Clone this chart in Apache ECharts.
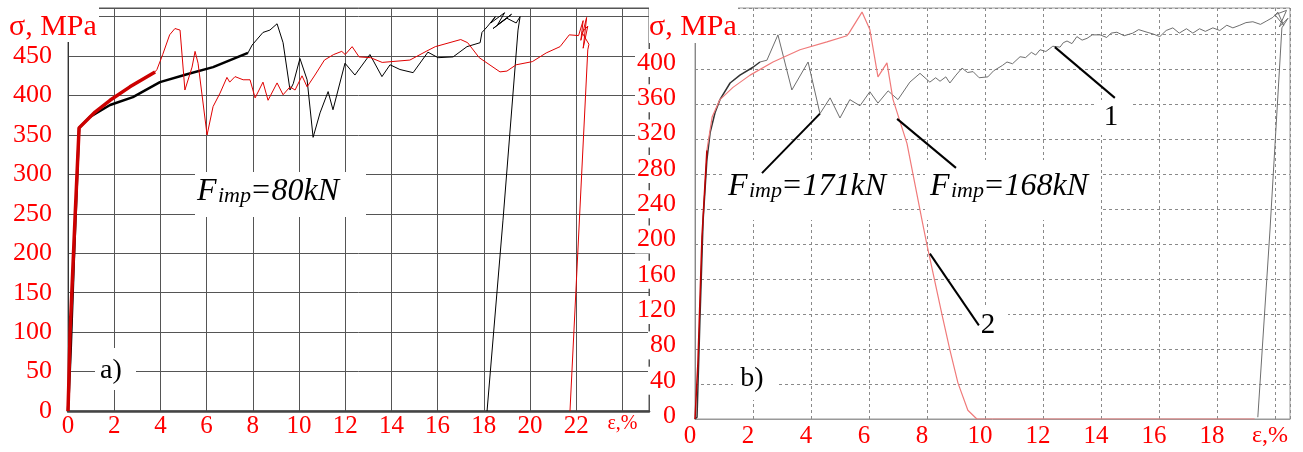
<!DOCTYPE html>
<html><head><meta charset="utf-8">
<script src="https://cdn.jsdelivr.net/npm/echarts@6/dist/echarts.min.js"></script>
<style>html,body{margin:0;padding:0;background:#fff}#c{width:1303px;height:452px}</style>
</head><body><div id="c"></div>
<script>
const SERIF = '"Liberation Serif","Times New Roman",serif';
const RED = '#ff0000';

// ---------- Panel a) : [strain %, stress MPa] ----------
const aBlackThick = [[0,0],[0.12,80],[0.25,190],[0.48,359],[0.95,373],[1.82,388],[2.81,398],[3.98,417],[5.15,427],[6.28,436],[7.79,454]];
const aBlackThin = [[7.79,454],[7.97,464],[8.44,480],[8.74,483],[9.05,491],[9.31,467],[9.61,407],[9.75,415],[10.04,447],[10.35,420],[10.61,347],[10.91,378],[11.26,405],[11.47,382],[11.99,441],[12.42,426],[13.07,452],[13.59,424],[13.94,439],[14.37,433],[14.94,429],[15.58,455],[16.02,448],[16.67,449],[17.27,462],[17.84,467],[17.92,480],[18.14,487],[18.5,500],[18.3,492],[18.9,505],[18.6,490],[19.2,503],[18.4,485],[19.0,498],[19.4,492],[19.57,500],[19.48,483],[18.83,242],[18.14,0]];
const aRedThick = [[0,0],[0.03,30],[0.09,99],[0.3,242],[0.48,359],[1.17,379],[1.82,394],[2.68,411],[3.77,430]];
const aRedThin = [[3.77,430],[3.85,433],[4.1,452],[4.4,477],[4.63,485],[4.85,483],[5.06,407],[5.37,436],[5.5,456],[5.63,441],[6.02,350],[6.28,386],[6.58,403],[6.88,423],[7.0,417],[7.23,424],[7.58,420],[7.88,420],[8.1,397],[8.44,417],[8.66,394],[9.05,416],[9.31,401],[9.61,411],[9.83,407],[10.13,425],[10.35,411],[10.69,426],[11.1,445],[11.5,452],[11.85,456],[12.0,452],[12.3,462],[12.6,449],[13.1,448],[13.6,442],[14.8,445],[15.5,456],[15.9,462],[17.0,471],[17.3,467],[17.8,448],[18.7,430],[19.0,431],[19.4,439],[20.1,443],[20.7,454],[21.3,462],[21.7,477],[22.1,476],[22.3,495],[22.2,470],[22.45,499],[22.3,460],[22.5,488],[22.25,480],[22.55,465],[22.5,458],[21.73,0]];

// ---------- Panel b) ----------
const bCurve1Start = [[0,0],[0.07,2],[0.17,113],[0.28,227],[0.41,296],[0.52,327],[0.69,350],[0.86,365],[1.21,384],[1.55,393],[2.0,402],[2.24,408]];
const bCurve1 = [[2.24,408],[2.48,410],[2.86,439],[3.34,376],[3.9,408],[4.31,349],[4.66,367],[5.0,344],[5.34,365],[5.69,358],[6.03,374],[6.31,361],[6.66,375],[7.0,365],[7.41,385],[7.76,395],[8.1,385],[8.3,390],[8.45,386],[8.65,391],[8.79,384],[9.0,393],[9.21,401],[9.4,396],[9.59,397],[9.8,390],[10.1,391],[10.3,398],[10.45,401],[10.6,404],[10.76,408],[10.95,406],[11.21,414],[11.4,413],[11.6,419],[11.75,416],[11.9,422],[12.1,420],[12.34,426],[12.59,425],[12.7,430],[12.83,432],[13.0,429],[13.17,437],[13.35,433],[13.52,435],[13.7,439],[13.97,439],[14.2,436],[14.35,441],[14.55,442],[14.8,438],[15.1,441],[15.3,445],[15.59,442],[15.8,440],[16.03,437],[16.25,444],[16.48,447],[16.7,441],[16.95,446],[17.17,441],[17.4,446],[17.6,443],[17.86,447],[18.1,444],[18.34,450],[18.55,447],[18.79,450],[19.0,453],[19.24,454],[19.5,451],[19.72,455],[19.93,459],[20.1,465],[20.3,450],[20.0,462],[20.4,467],[20.15,448],[20.45,458],[20.24,447],[19.83,216],[19.41,2]];
const bCurve2Start = [[0,0],[0.1,64],[0.24,208],[0.28,231],[0.41,307]];
const bCurve2 = [[0.41,307],[0.59,345],[0.86,365],[1.31,379],[1.9,393],[2.69,408],[3.62,422],[4.55,431],[5.24,438],[5.31,441],[5.76,465],[6.03,445],[6.31,391],[6.62,407],[6.83,365],[7.31,315],[7.83,227],[8.0,199],[8.52,119],[8.79,79],[9.07,41],[9.41,10],[9.72,0],[19.3,0]];

// annotation leader lines (data coordinates of panel b)
const leaderF171 = [[2.31,281],[4.31,349]];
const leaderF168 = [[6.97,343],[9.0,287]];
const leader1 = [[12.41,425],[14.48,367]];
const leader2 = [[8.1,189],[9.79,107]];

const chart = echarts.init(document.getElementById('c'), null, {renderer:'canvas'});

function lineSeries(data, xi, color, width, z) {
  return {type:'line', data, xAxisIndex:xi, yAxisIndex:xi, showSymbol:false, symbol:'none',
    lineStyle:{color, width}, itemStyle:{color}, animation:false, z: z||2, silent:true};
}

const epsRich = (size) => ({e:{fontSize:size, color:RED, fontFamily:SERIF}});

function txt(text, x, y, size, italic, align) {
  return {type:'text', x, y, z:10, style:{text, fill:'#000',
    font:(italic?'italic ':'')+size+'px '+SERIF,
    align: align||'left', textAlign: align||'left', verticalAlign:'middle', textVerticalAlign:'middle'}};
}
function box(x, y, w, h) {
  return {type:'rect', z:1, shape:{x, y, width:w, height:h}, style:{fill:'#fff'}};
}
function redTxt(text, x, y, size) {
  return {type:'text', x, y, z:10, style:{text, fill:RED, font:size+'px '+SERIF,
    align:'left', textAlign:'left', verticalAlign:'middle', textVerticalAlign:'middle'}};
}

const option = {
  backgroundColor:'#fff',
  animation:false,
  grid:[
    {left:68, top:8, width:581, height:403, show:true, borderColor:'#555', borderWidth:1, containLabel:false, outerBoundsMode:'none'},
    {left:695, top:8, width:595, height:411, show:true, borderColor:'#999', borderWidth:1, containLabel:false, outerBoundsMode:'none'},
    {left:695, top:63, width:595, height:353, show:false, containLabel:false, outerBoundsMode:'none'}
  ],
  xAxis:[
    {gridIndex:0, type:'value', min:0, max:25.15, interval:2,
      axisLine:{show:true, lineStyle:{color:'#444', width:2.5}}, axisTick:{show:false},
      splitLine:{show:true, lineStyle:{color:'#555', width:1}},
      axisLabel:{color:RED, fontSize:25, fontFamily:SERIF, margin:3,
        formatter:v => v===24 ? '{e|ε,%}' : ((v<24 && v%2===0) ? String(v) : ''), rich:epsRich(20)}},
    {gridIndex:1, type:'value', min:0, max:20.52, interval:2,
      axisLine:{show:true, lineStyle:{color:'#999', width:1}}, axisTick:{show:false},
      splitLine:{show:true, lineStyle:{color:'#8a8a8a', width:1, type:[3,3]}},
      axisLabel:{color:RED, fontSize:25, fontFamily:SERIF, margin:5, padding:[0,10,0,0],
        formatter:v => v===20 ? '{e|ε,%}' : ((v<20 && v%2===0) ? String(v) : ''), rich:epsRich(24)}},
    {gridIndex:2, type:'value', min:0, max:1, show:false}
  ],
  yAxis:[
    {gridIndex:0, type:'value', min:0, max:511, interval:50,
      axisLine:{show:true, lineStyle:{color:'#333', width:1}}, axisTick:{show:false},
      splitLine:{show:true, lineStyle:{color:'#555', width:1}},
      axisLabel:{color:RED, fontSize:26, fontFamily:SERIF, margin:16,
        formatter:v => (v<=450 && v%50===0) ? String(v) : ''}},
    {gridIndex:1, type:'value', min:0, max:469.7, interval:40,
      axisLine:{show:true, lineStyle:{color:'#888', width:1}}, axisTick:{show:false},
      splitLine:{show:true, lineStyle:{color:'#8a8a8a', width:1, type:[3,3]}},
      axisLabel:{show:false}},
    {gridIndex:2, type:'value', min:0, max:400, interval:40, z:3,
      axisLine:{show:false}, axisTick:{show:false}, splitLine:{show:false},
      axisLabel:{color:RED, fontSize:26, fontFamily:SERIF, margin:17, backgroundColor:'#fff', padding:[1,2,1,2]}}
  ],
  series:[
    lineSeries(aBlackThick, 0, '#000', 2.5),
    lineSeries(aBlackThin, 0, '#000', 1),
    lineSeries(aRedThin, 0, '#e00000', 1),
    lineSeries(aRedThick, 0, '#cc0000', 3.5),
    lineSeries(bCurve1, 1, '#6e6e6e', 1),
    lineSeries(bCurve1Start, 1, '#333', 1.5),
    lineSeries(bCurve2, 1, '#f07a7a', 1.2),
    lineSeries(bCurve2Start, 1, '#c00000', 1.5),
    lineSeries(leaderF171, 1, '#000', 2, 5),
    lineSeries(leaderF168, 1, '#000', 2, 5),
    lineSeries(leader1, 1, '#000', 2, 5),
    lineSeries(leader2, 1, '#000', 2, 5)
  ],
  graphic:{elements:[
    box(0,0,99,42),
    box(649,0,89,43),
    box(195,172,171,45),
    box(95,348,41,42),
    box(723,160,170,60),
    box(925,160,175,60),
    box(733,360,44,40),
    box(1097,100,36,35),
    box(965,305,43,43),
    redTxt('σ, MPa', 9, 27, 30),
    redTxt('σ, MPa', 649, 27, 30),
    txt('F', 197, 192, 32, true),
    txt('imp', 218, 196, 22, true),
    txt('=80kN', 250, 192, 32, true),
    txt('F', 728, 187, 32, true),
    txt('imp', 749, 191, 22, true),
    txt('=171kN', 781, 187, 32, true),
    txt('F', 930, 187, 32, true),
    txt('imp', 951, 191, 22, true),
    txt('=168kN', 983, 187, 32, true),
    txt('a)', 111, 371, 28, false, 'center'),
    txt('b)', 752, 379, 28, false, 'center'),
    txt('1', 1111, 117, 29, false, 'center'),
    txt('2', 988, 325, 29, false, 'center')
  ]}
};
chart.setOption(option);
</script>
</body></html>
